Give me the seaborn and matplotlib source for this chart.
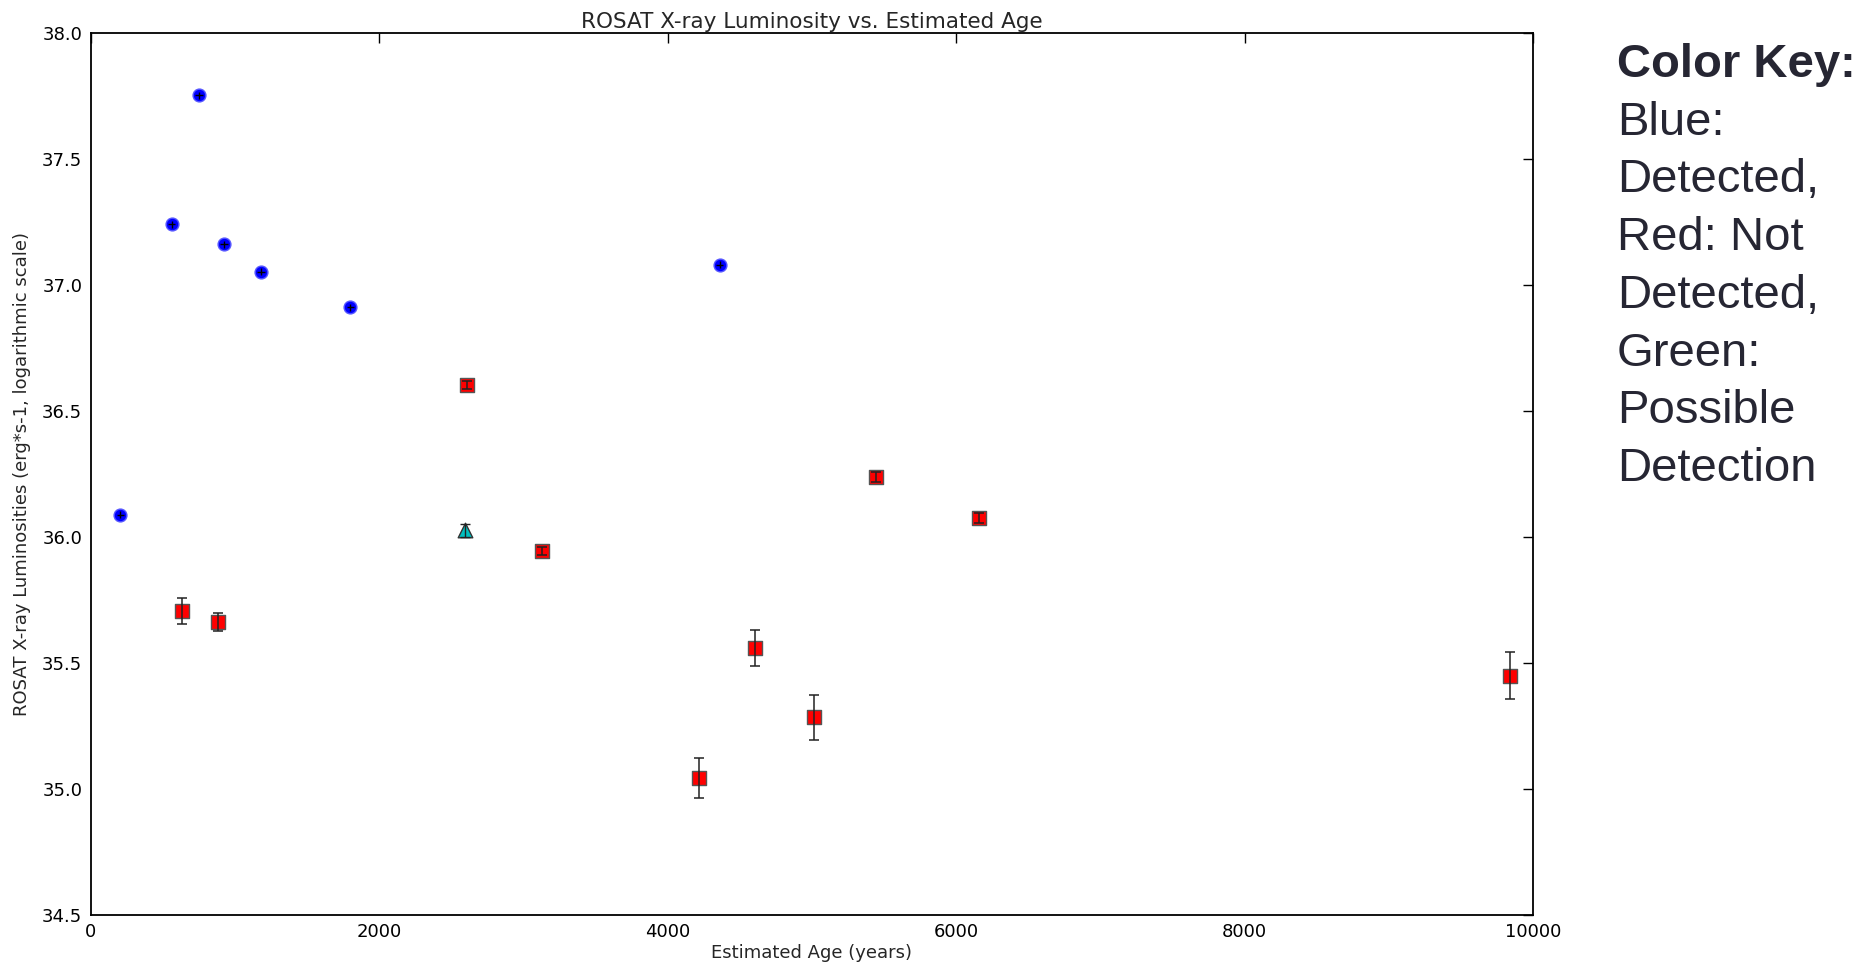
import matplotlib
matplotlib.use("Agg")
import matplotlib.pyplot as plt
import seaborn as sns
import pandas as pd

# ---- data ----
det_age = [206, 561, 751, 925, 1181, 1800, 4360]
det_lum = [36.09, 37.243, 37.754, 37.163, 37.054, 36.912, 37.082]
det_lum_err = [0.014, 0.014, 0.014, 0.014, 0.014, 0.014, 0.014]
det_age_err = [25, 25, 25, 25, 25, 25, 25]

nd_age = [636, 884, 2609, 3130, 4220, 4608, 5012, 5442, 6160, 9843]
nd_lum = [35.706, 35.663, 36.605, 35.947, 35.044, 35.559, 35.285, 36.24, 36.075, 35.45]
nd_lum_err = [0.051, 0.037, 0.016, 0.016, 0.08, 0.072, 0.09, 0.02, 0.02, 0.093]

pos_age = [2593]
pos_lum = [36.027]
pos_lum_err = [0.025]

x_ticks = [0, 2000, 4000, 6000, 8000, 10000]
y_ticks = [34.5, 35.0, 35.5, 36.0, 36.5, 37.0, 37.5, 38.0]

key_lines = ["Blue:", "Detected,", "Red: Not", "Detected,", "Green:", "Possible", "Detection"]

sns.set_style("white")
plt.rcParams["font.family"] = ["DejaVu Sans"]

fig = plt.figure(figsize=(18.68, 9.63), dpi=100)
ax = fig.add_axes([0.0485, 0.0498, 0.7722, 0.9155])

df = pd.DataFrame({
    "age": det_age + nd_age + pos_age,
    "lum": det_lum + nd_lum + pos_lum,
    "status": ["Detected"] * len(det_age) + ["Not Detected"] * len(nd_age) + ["Possible"] * len(pos_age),
})
palette = {"Detected": (0, 0, 1), "Not Detected": (1, 0, 0), "Possible": (0, 0.75, 0.75)}
markers = {"Detected": "o", "Not Detected": "s", "Possible": "^"}

for status, size, ec in [("Detected", 85, (0.35, 0.35, 1.0)), ("Not Detected", 100, "#555555"), ("Possible", 110, "#333333")]:
    sub = df[df["status"] == status]
    sns.scatterplot(data=sub, x="age", y="lum", color=palette[status], marker=markers[status],
                    s=size, edgecolor=ec, linewidth=1.0, ax=ax, legend=False, zorder=2)

ax.errorbar(det_age, det_lum, yerr=det_lum_err, xerr=det_age_err, fmt="none",
            ecolor="k", elinewidth=1.0, capsize=0, zorder=3)
ax.errorbar(nd_age, nd_lum, yerr=nd_lum_err, fmt="none",
            ecolor="#222222", elinewidth=1.1, capsize=3.4, capthick=1.1, zorder=3)
ax.errorbar(pos_age, pos_lum, yerr=pos_lum_err, fmt="none",
            ecolor="#222222", elinewidth=1.0, capsize=3.4, zorder=3)

ax.set_xlim(0, 10000)
ax.set_ylim(34.5, 38.0)
ax.set_xticks(x_ticks)
ax.set_xticklabels([str(t) for t in x_ticks])
ax.set_yticks(y_ticks)
ax.set_yticklabels([f"{t:.1f}" for t in y_ticks])
ax.tick_params(direction="in", length=7, width=1, top=True, right=True,
               labelsize=13, colors="black", pad=6)
for sp in ax.spines.values():
    sp.set_color("black")
    sp.set_linewidth(1.3)

ax.set_xlabel("Estimated Age (years)", fontsize=13, labelpad=2)
ax.set_ylabel("ROSAT X-ray Luminosities (erg*s-1, logarithmic scale)", fontsize=13, labelpad=8)
ax.set_title("ROSAT X-ray Luminosity vs. Estimated Age", fontsize=15.5, pad=4)

# Color key text block on the right
fig.text(0.8656, 1 - 77 / 963, "Color Key:", fontsize=34, fontweight="bold",
         color="#262633", family=["Liberation Sans", "DejaVu Sans"], va="baseline")
for i, line in enumerate(key_lines):
    fig.text(0.8656, 1 - (77 + 57.7 * (i + 1)) / 963, line, fontsize=34,
             color="#262633", family=["Liberation Sans", "DejaVu Sans"], va="baseline")

fig.savefig("out.png", dpi=100, facecolor="white")
